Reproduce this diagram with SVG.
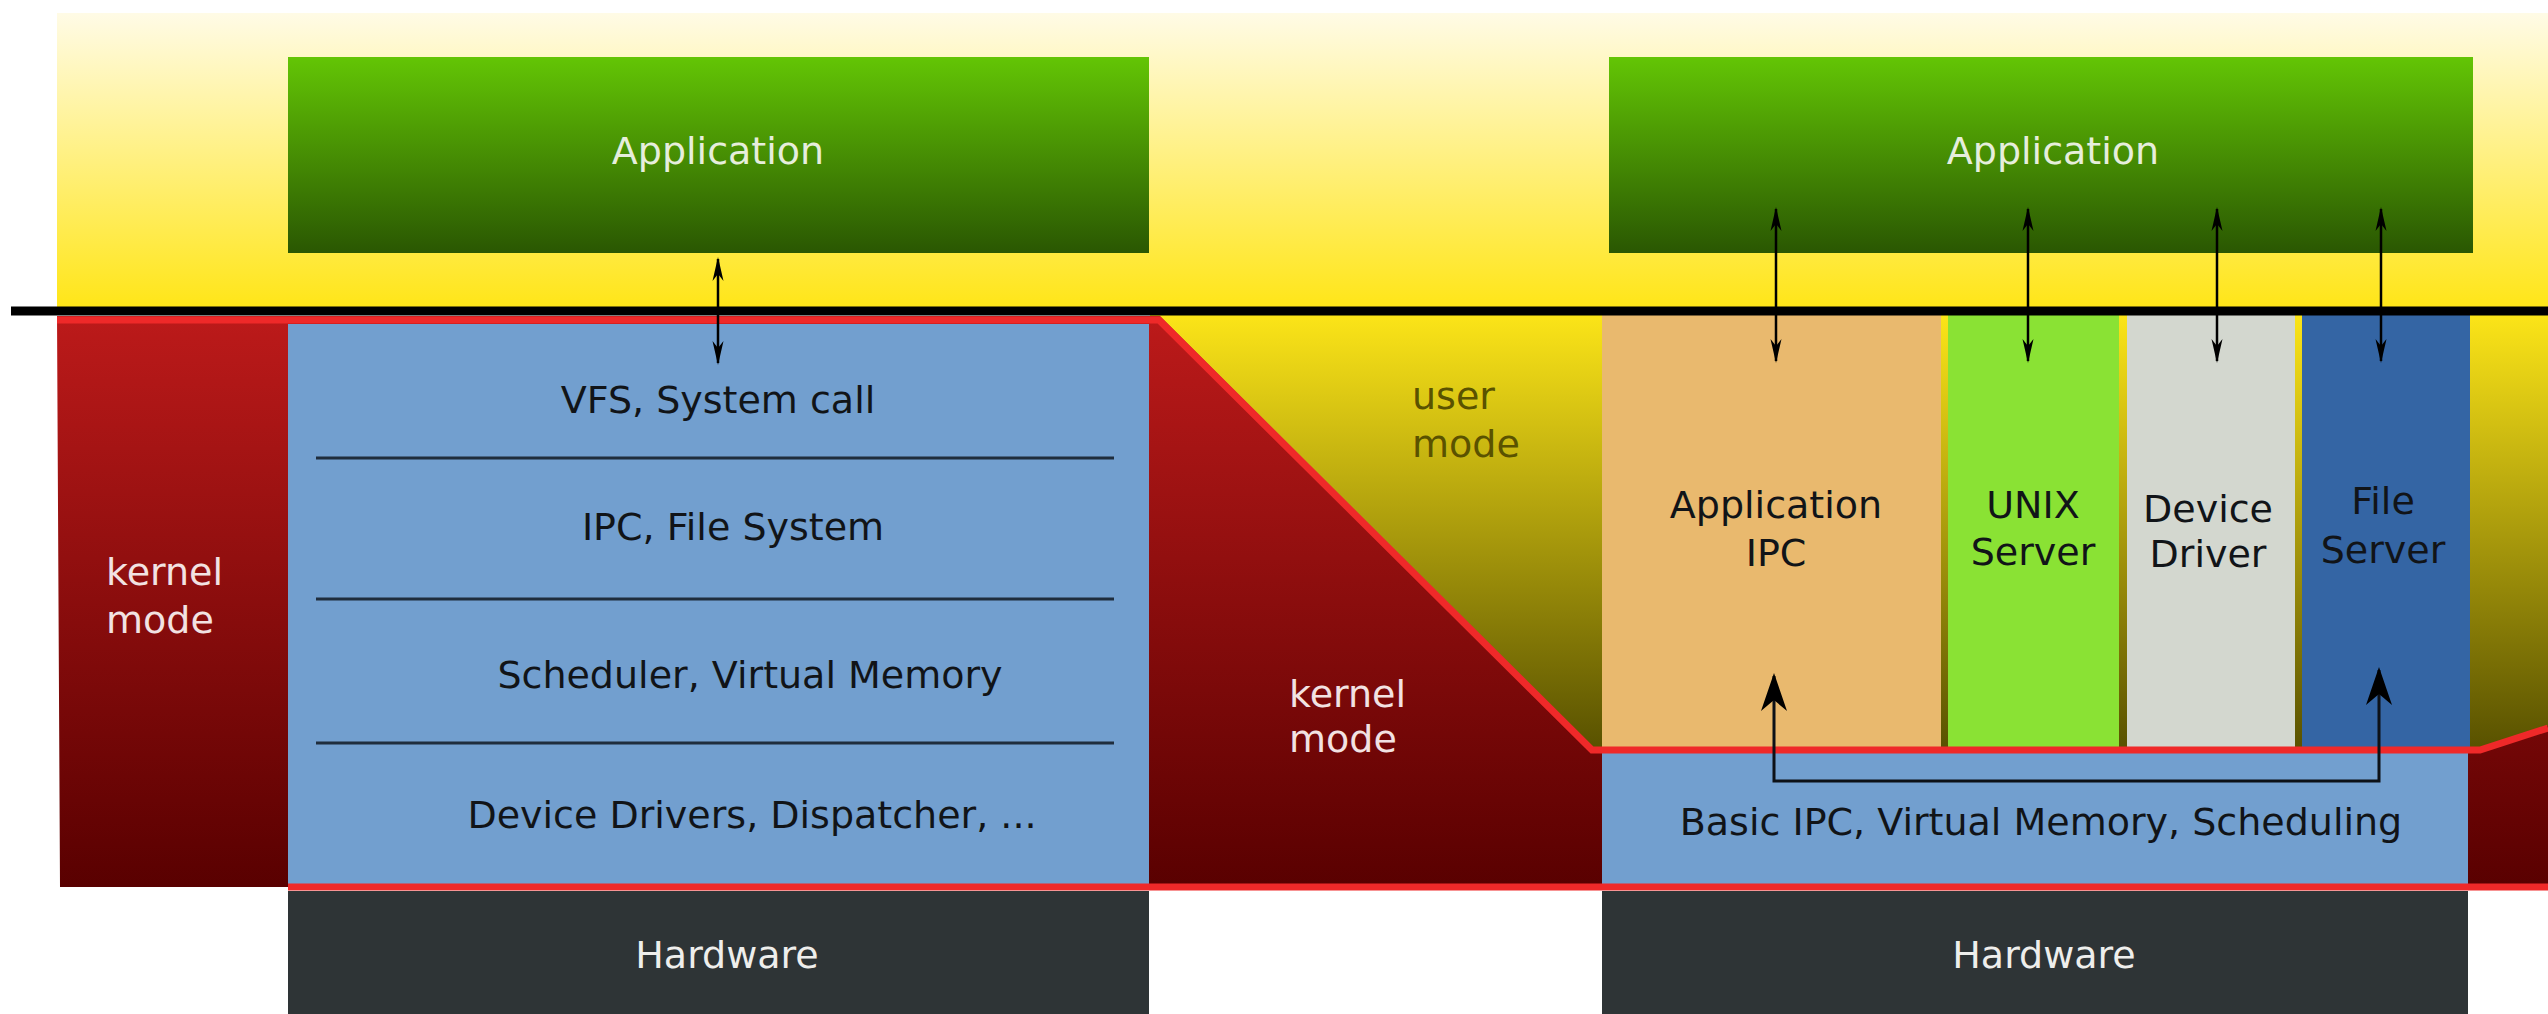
<svg xmlns="http://www.w3.org/2000/svg" width="2548" height="1014" viewBox="0 0 2548 1014">
  <defs>
    <linearGradient id="gTop" x1="0" y1="13" x2="0" y2="313" gradientUnits="userSpaceOnUse">
      <stop offset="0" stop-color="#fffbe6"/>
      <stop offset="1" stop-color="#ffe514"/>
    </linearGradient>
    <linearGradient id="gUser" x1="0" y1="316" x2="0" y2="750" gradientUnits="userSpaceOnUse">
      <stop offset="0" stop-color="#fbe418"/>
      <stop offset="1" stop-color="#585100"/>
    </linearGradient>
    <linearGradient id="gKernel" x1="0" y1="316" x2="0" y2="887" gradientUnits="userSpaceOnUse">
      <stop offset="0" stop-color="#bc1a1a"/>
      <stop offset="1" stop-color="#590000"/>
    </linearGradient>
    <linearGradient id="gApp" x1="0" y1="0" x2="0" y2="1">
      <stop offset="0" stop-color="#63c505"/>
      <stop offset="1" stop-color="#2a5702"/>
    </linearGradient>
    <marker id="tipS" viewBox="-26 -7 28 14" refX="-2" refY="0" markerWidth="28" markerHeight="14" markerUnits="userSpaceOnUse" orient="auto-start-reverse">
      <path d="M0,0 L-24,-5.5 L-17,0 L-24,5.5 Z" fill="#000"/>
    </marker>
    <marker id="tipL" viewBox="-40 -14 43 28" refX="-3" refY="0" markerWidth="43" markerHeight="28" markerUnits="userSpaceOnUse" orient="auto-start-reverse">
      <path d="M0,0 L-38,-13 L-27,0 L-38,13 Z" fill="#000"/>
    </marker>
    <style>
      text { font-family: "DejaVu Sans", "Liberation Sans", sans-serif; font-size: 38px; }
      .mid { text-anchor: middle; }
      .app { fill: #e6eedc; }
      .dark { fill: #111418; }
      .hw { fill: #eeeeec; }
      .kern { fill: #f2e2e2; }
      .user { fill: #5a5200; }
      .sep { stroke: #1f2d3d; stroke-width: 3; }
      .edge { fill: none; stroke: #ef2929; stroke-width: 7; stroke-linejoin: miter; }
      .arrow { fill: none; stroke: #000; stroke-width: 2.5; marker-start: url(#tipS); marker-end: url(#tipS); }
      .ipc { fill: none; stroke: #0d1117; stroke-width: 3; marker-start: url(#tipL); marker-end: url(#tipL); }
    </style>
  </defs>

  <!-- privilege zones -->
  <g id="zones">
    <rect x="57" y="13" width="2491" height="300" fill="url(#gTop)"/>
    <polygon points="1150,314 2548,314 2548,760 1150,760" fill="url(#gUser)"/>
    <polygon points="57,316 1160,316 1592,748 2480,748 2548,726 2548,887 60,887" fill="url(#gKernel)"/>
  </g>

  <!-- monolithic kernel stack -->
  <g id="mono-app">
    <rect x="288" y="57" width="861" height="196" fill="url(#gApp)"/>
    <text class="mid app" x="718" y="164">Application</text>
  </g>
  <g id="mono-kernel">
    <rect x="288" y="324" width="861" height="562" fill="#729fcf"/>
    <line class="sep" x1="316" y1="458" x2="1114" y2="458"/>
    <line class="sep" x1="316" y1="599" x2="1114" y2="599"/>
    <line class="sep" x1="316" y1="743" x2="1114" y2="743"/>
    <text class="mid dark" x="718" y="413">VFS, System call</text>
    <text class="mid dark" x="733" y="540">IPC, File System</text>
    <text class="mid dark" x="750" y="688">Scheduler, Virtual Memory</text>
    <text class="mid dark" x="752" y="828">Device Drivers, Dispatcher, ...</text>
  </g>
  <g id="mono-hw">
    <rect x="288" y="891" width="861" height="123" fill="#2e3436"/>
    <text class="mid hw" x="727" y="968">Hardware</text>
  </g>

  <!-- microkernel stack -->
  <g id="micro-app">
    <rect x="1609" y="57" width="864" height="196" fill="url(#gApp)"/>
    <text class="mid app" x="2053" y="164">Application</text>
  </g>
  <g id="srv-ipc">
    <rect x="1602" y="314" width="339" height="436" fill="#e9b96e"/>
    <text class="mid dark" x="1776" y="518">Application</text>
    <text class="mid dark" x="1776" y="566">IPC</text>
  </g>
  <g id="srv-unix">
    <rect x="1948" y="314" width="171" height="436" fill="#8ae234"/>
    <text class="mid dark" x="2033" y="518">UNIX</text>
    <text class="mid dark" x="2033" y="565">Server</text>
  </g>
  <g id="srv-driver">
    <rect x="2127" y="314" width="168" height="436" fill="#d3d7cf"/>
    <text class="mid dark" x="2208" y="522">Device</text>
    <text class="mid dark" x="2208" y="567">Driver</text>
  </g>
  <g id="srv-file">
    <rect x="2302" y="314" width="168" height="436" fill="#3465a4"/>
    <text class="mid dark" x="2383" y="514">File</text>
    <text class="mid dark" x="2383" y="563">Server</text>
  </g>
  <g id="micro-kernel">
    <rect x="1602" y="750" width="866" height="136" fill="#729fcf"/>
    <text class="mid dark" x="2041" y="835">Basic IPC, Virtual Memory, Scheduling</text>
  </g>
  <g id="micro-hw">
    <rect x="1602" y="891" width="866" height="123" fill="#2e3436"/>
    <text class="mid hw" x="2044" y="968">Hardware</text>
  </g>

  <!-- mode boundaries -->
  <g id="boundaries">
    <polyline class="edge" points="57,320 1159,320 1592,750 2480,750 2548,728"/>
    <line class="edge" x1="288" y1="887" x2="2548" y2="887"/>
    <line x1="11" y1="311" x2="2548" y2="311" stroke="#000" stroke-width="9"/>
  </g>

  <!-- mode labels -->
  <g id="labels">
    <text class="kern" x="106" y="585">kernel</text>
    <text class="kern" x="106" y="633">mode</text>
    <text class="user" x="1412" y="409">user</text>
    <text class="user" x="1412" y="457">mode</text>
    <text class="kern" x="1289" y="707">kernel</text>
    <text class="kern" x="1289" y="752">mode</text>
  </g>

  <!-- calls between layers -->
  <g id="connectors">
    <line class="arrow" x1="718" y1="259" x2="718" y2="363"/>
    <line class="arrow" x1="1776" y1="209" x2="1776" y2="361"/>
    <line class="arrow" x1="2028" y1="209" x2="2028" y2="361"/>
    <line class="arrow" x1="2217" y1="209" x2="2217" y2="361"/>
    <line class="arrow" x1="2381" y1="209" x2="2381" y2="361"/>
    <path class="ipc" d="M1774,676 L1774,781 L2379,781 L2379,670"/>
  </g>
</svg>
